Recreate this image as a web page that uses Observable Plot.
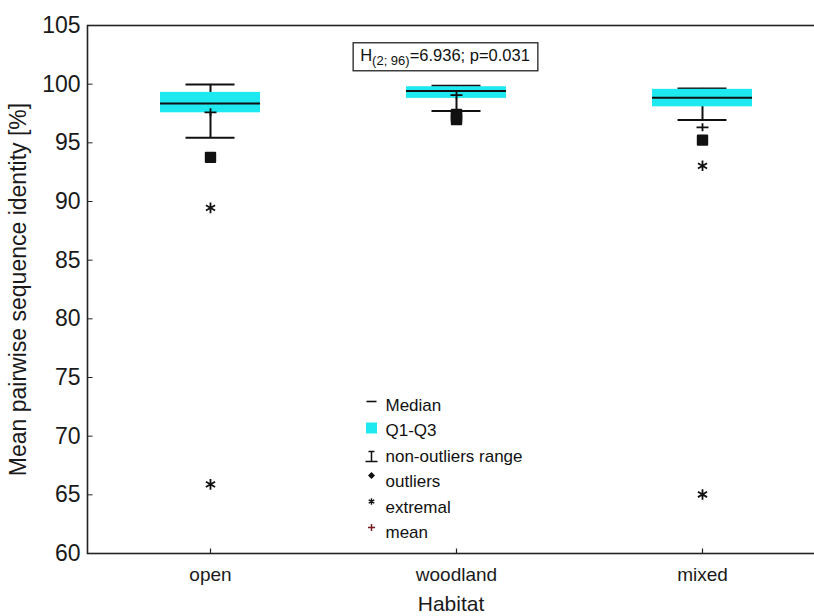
<!DOCTYPE html>
<html><head><meta charset="utf-8">
<script src="https://cdn.jsdelivr.net/npm/d3@7"></script>
<script src="https://cdn.jsdelivr.net/npm/@observablehq/plot@0.6"></script>
<style>
body{margin:0;background:#fff;overflow:hidden;}
#chart svg{overflow:hidden;font-family:"Liberation Sans",Arial,sans-serif;}
</style></head><body><div id="chart"></div>
<script>
// ---- data ----
const habitats = ["open", "woodland", "mixed"];
const q1 = [97.56, 98.79, 98.07];
const q3 = [99.30, 99.78, 99.56];
const medians = [98.36, 99.41, 98.84];
const whiskerLow = [95.43, 97.71, 96.94];
const whiskerHigh = [99.98, 99.87, 99.64];
const means = [97.60, 99.07, 96.32];
const outlierHabitat = ["open", "woodland", "woodland", "woodland", "mixed"];
const outlierValue = [93.76, 97.41, 97.20, 96.98, 95.23];
const extremeHabitat = ["open", "open", "mixed", "mixed"];
const extremeValue = [89.46, 65.89, 93.04, 65.03];
const yTicks = [60, 65, 70, 75, 80, 85, 90, 95, 100, 105];
const legendLabels = ["Median", "Q1-Q3", "non-outliers range", "outliers", "extremal", "mean"];
const statName = "H", statDf = "(2; 96)", statRest = "=6.936; p=0.031";
const xTitle = "Habitat";
const yTitle = "Mean pairwise sequence identity [%]";

// ---- tables built from the arrays ----
const boxes = habitats.map((h, i) => ({habitat: h, q1: q1[i], q3: q3[i], median: medians[i], lo: whiskerLow[i], hi: whiskerHigh[i], mean: means[i]}));
const outliers = outlierHabitat.map((h, i) => ({habitat: h, value: outlierValue[i]}));
const extremes = extremeHabitat.map((h, i) => ({habitat: h, value: extremeValue[i]}));

// ---- styles ----
const cyan = "#1ee8f0";
const ink = "#111";
const font = "Liberation Sans, Arial, sans-serif";
const sym = (f) => ({draw(c) { f(c); }});
const meanPlus = sym(c => { c.moveTo(-6, 0); c.lineTo(6, 0); c.moveTo(0, -4); c.lineTo(0, 4); });
const tickUp = sym(c => { c.moveTo(0, 0); c.lineTo(0, -5); });
const tickRight = sym(c => { c.moveTo(0, 0); c.lineTo(5, 0); });
const legDash = sym(c => { c.moveTo(-5, 0); c.lineTo(5, 0); });
const legRange = sym(c => { c.moveTo(-3, -5); c.lineTo(3, -5); c.moveTo(0, -5); c.lineTo(0, 5); c.moveTo(-6, 5); c.lineTo(6, 5); });
const legPlus = sym(c => { c.moveTo(-3.5, 0); c.lineTo(3.5, 0); c.moveTo(0, -3.5); c.lineTo(0, 3.5); });

const mL = 87, mT = 25, legX = 284, legTextX = 298;
const legY = [405, 430, 456, 481, 507, 532].map(v => v - mT);
const symY = [401, 427.5, 456, 475, 501, 527].map(v => v - mT);

const legendMarks = [
  Plot.dot([0], {frameAnchor: "top-left", dx: legX, dy: symY[0], symbol: legDash, stroke: ink, strokeWidth: 1.6, fill: "none"}),
  Plot.dot([0], {frameAnchor: "top-left", dx: legX, dy: symY[1], symbol: "square", r: 6.2, fill: cyan, stroke: "none"}),
  Plot.dot([0], {frameAnchor: "top-left", dx: legX, dy: symY[2], symbol: legRange, stroke: ink, strokeWidth: 1.5, fill: "none"}),
  Plot.dot([0], {frameAnchor: "top-left", dx: legX, dy: symY[3], symbol: "square", r: 2.2, rotate: 45, fill: ink, stroke: ink, strokeWidth: 1}),
  Plot.dot([0], {frameAnchor: "top-left", dx: legX, dy: symY[4], symbol: "asterisk", r: 3, stroke: ink, strokeWidth: 1.4, fill: "none"}),
  Plot.dot([0], {frameAnchor: "top-left", dx: legX, dy: symY[5], symbol: legPlus, stroke: "#7a1c22", strokeWidth: 1.5, fill: "none"}),
  ...legendLabels.map((t, i) => Plot.text([t], {frameAnchor: "top-left", dx: legTextX, dy: legY[i], text: d => d, textAnchor: "start", lineAnchor: "middle", fontSize: 17, fill: ink, fontFamily: font}))
];

const chart = Plot.plot({
  width: 814,
  height: 616,
  marginLeft: mL,
  marginTop: mT,
  marginBottom: 63,
  marginRight: 0,
  style: {fontFamily: font, background: "#fff", color: ink},
  x: {type: "band", domain: habitats, range: [87, 825], padding: 0, label: null},
  y: {domain: [60, 105], label: null},
  marks: [
    Plot.frame({stroke: "#222", strokeWidth: 1.6, insetRight: -20}),
    Plot.axisY({ticks: yTicks, tickSize: 0, tickPadding: 7, fontSize: 23, fill: "#1a1a1a", label: null}),
    Plot.dot(yTicks, {y: d => d, frameAnchor: "left", symbol: tickRight, stroke: "#222", strokeWidth: 1, fill: "none"}),
    Plot.axisX({tickSize: 0, tickPadding: 14, fontSize: 19, fill: "#1a1a1a", label: null}),
    Plot.dot(habitats, {x: d => d, frameAnchor: "bottom", symbol: tickUp, stroke: "#222", strokeWidth: 1.2, fill: "none"}),
    Plot.text([xTitle], {frameAnchor: "bottom", dy: 51, text: d => d, fontSize: 21, fill: "#1a1a1a", lineAnchor: "middle", textAnchor: "middle"}),
    Plot.text([yTitle], {frameAnchor: "left", dx: -69, rotate: -90, text: d => d, fontSize: 23, fill: "#1a1a1a", lineAnchor: "middle", textAnchor: "middle"}),
    // whiskers
    Plot.ruleX(boxes, {x: "habitat", y1: "lo", y2: "hi", stroke: ink, strokeWidth: 2}),
    Plot.tickY(boxes, {x: "habitat", y: "hi", stroke: ink, strokeWidth: 2, insetLeft: 98.5, insetRight: 98.5}),
    Plot.tickY(boxes, {x: "habitat", y: "lo", stroke: ink, strokeWidth: 2, insetLeft: 98.5, insetRight: 98.5}),
    // boxes
    Plot.barY(boxes, {x: "habitat", y1: "q1", y2: "q3", fill: cyan, insetLeft: 73, insetRight: 73}),
    Plot.tickY(boxes, {x: "habitat", y: "median", stroke: ink, strokeWidth: 2, insetLeft: 73, insetRight: 73}),
    Plot.dot(boxes, {x: "habitat", y: "mean", symbol: meanPlus, stroke: ink, strokeWidth: 1.8, fill: "none"}),
    // outliers and extremes
    Plot.dot(outliers, {x: "habitat", y: "value", symbol: "square", r: 5.3, fill: ink, stroke: ink, strokeWidth: 2, strokeLinejoin: "round"}),
    Plot.dot(extremes, {x: "habitat", y: "value", symbol: "asterisk", r: 5, stroke: ink, strokeWidth: 1.8, fill: "none"}),
    // statistic annotation
    Plot.text([statName + statDf + statRest], {frameAnchor: "top", dx: -6, dy: 30, text: d => d, fontSize: 16.5, fill: ink, lineAnchor: "middle", textAnchor: "middle", className: "annot"}),
    ...legendMarks
  ]
});

document.getElementById("chart").appendChild(chart);

// rich text (subscript) and box for the annotation
const g = d3.select(chart).select("g.annot");
const t = g.select("text");
t.text(null);
t.append("tspan").text(statName);
t.append("tspan").attr("font-size", 13).attr("dy", 4).text(statDf);
t.append("tspan").attr("dy", -4).text(statRest);
const bb = t.node().getBBox();
const cy = bb.y + bb.height / 2;
g.insert("rect", "text")
  .attr("transform", t.attr("transform"))
  .attr("x", bb.x - 7).attr("width", bb.width + 15)
  .attr("y", cy - 14).attr("height", 28)
  .attr("fill", "#fff").attr("stroke", "#222").attr("stroke-width", 1.3);
</script>
</body></html>
